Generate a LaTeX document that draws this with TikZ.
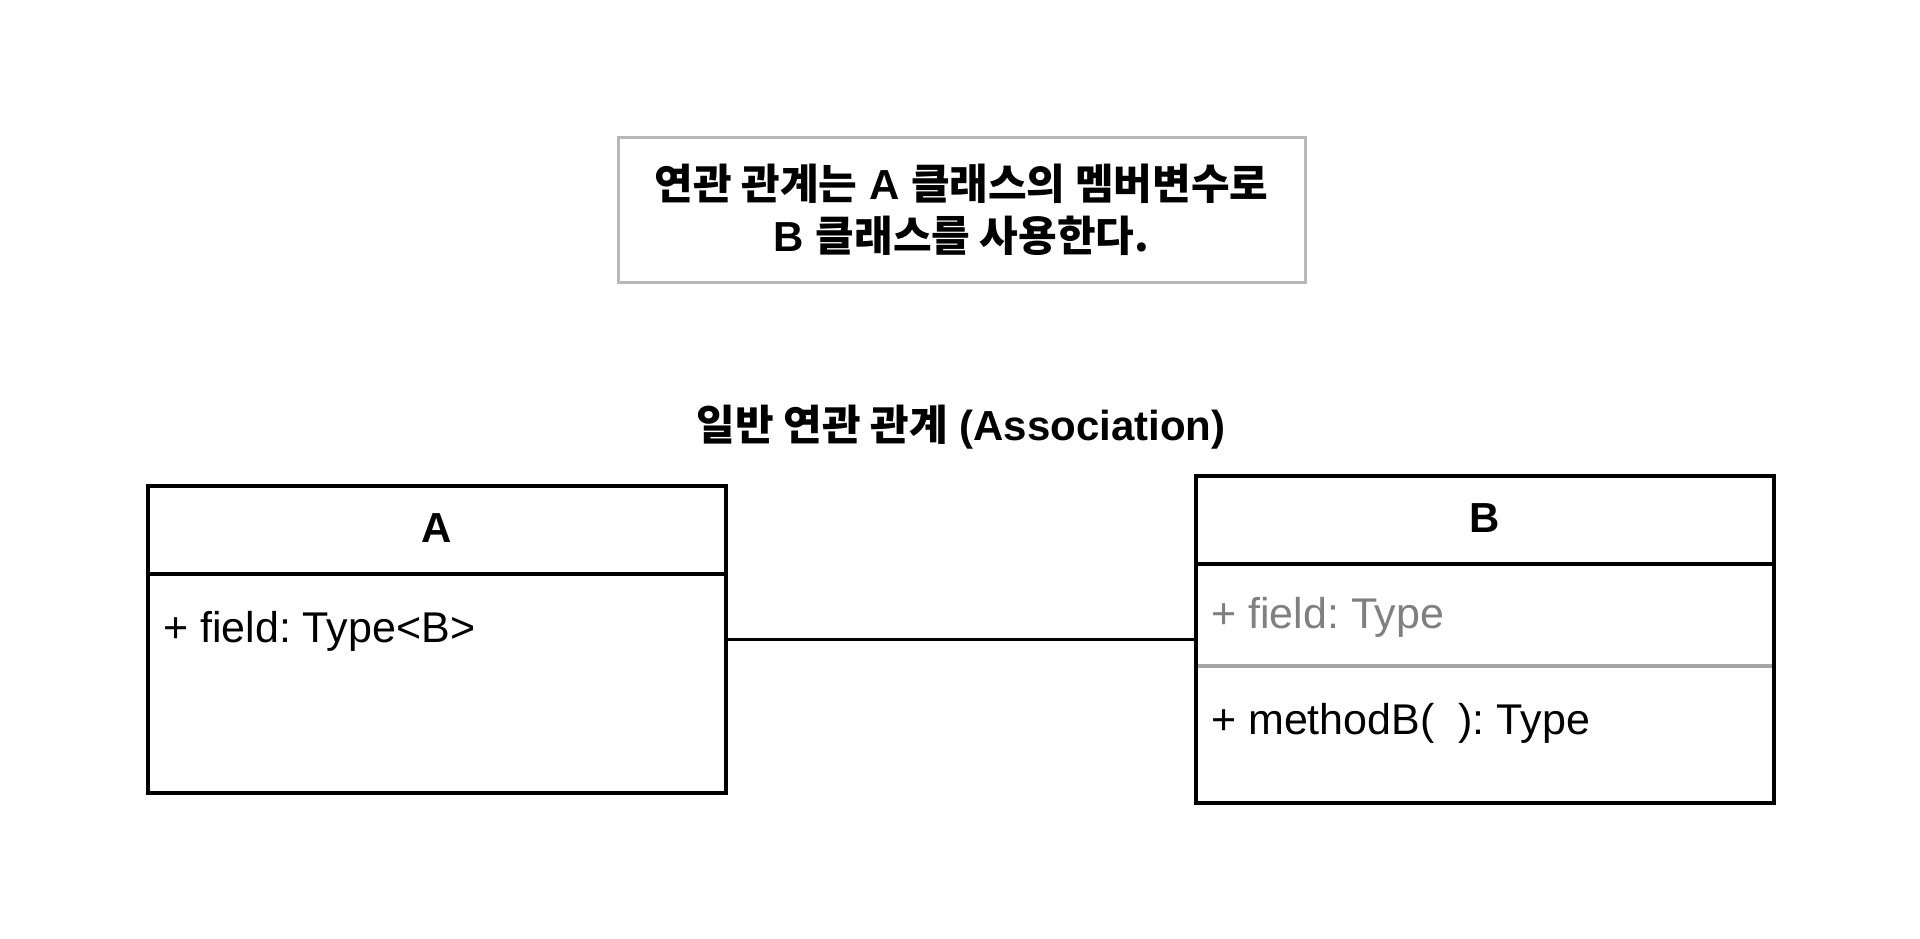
\documentclass[tikz,border=0pt]{standalone}
\usepackage{fontspec}
\setmainfont{Liberation Sans}
\newfontfamily\kr{Noto Sans CJK KR}
\usetikzlibrary{positioning}
\frenchspacing

\definecolor{notegray}{HTML}{B8B8B8}
\definecolor{fieldgray}{HTML}{808080}
\definecolor{dividergray}{HTML}{A6A6A6}

\tikzset{
  classbox/.style={draw=black, line width=3.2pt, minimum width=578pt, inner sep=0pt, outer sep=0pt},
  headtext/.style={font=\bfseries\fontsize{42}{50}\selectfont},
  member/.style={anchor=west, inner sep=0pt, font=\fontsize{43}{50}\selectfont}
}

\begin{document}
\begin{tikzpicture}[x=1pt, y=-1pt]
    \useasboundingbox (0,0) rectangle (1920,938);

    % Note
    \node[draw=notegray, line width=3pt, minimum width=687pt, minimum height=145pt, align=center,
          font=\bfseries\fontsize{42}{52}\selectfont] (note) at (961.5,209.5)
          {{\kr 연관 관계는} A {\kr 클래스의 멤버변수로}\\B {\kr 클래스를 사용한다.}};

    % Title
    \node[headtext] (title) at (961,427) {{\kr 일반 연관 관계} (Association)};

    % Class A
    \node[classbox, minimum height=88pt, headtext] (Ahead) at (437,530) {\raisebox{3pt}{A}};
    \node[classbox, minimum height=219pt, below=0pt of Ahead] (Abody) {};
    \node[member] (Afield) at (163,631) {+ field: Type<B>};

    % Class B
    \node[classbox, minimum height=88pt, headtext] (Bhead) at (1485,520) {\raisebox{3pt}{B}};
    \node[classbox, minimum height=102pt, below=0pt of Bhead] (Bfield) {};
    \node[classbox, minimum height=137pt, below=0pt of Bfield] (Bmethod) {};
    \draw[dividergray, line width=4pt, shorten <=1.6pt, shorten >=1.6pt] (Bfield.south west) -- (Bfield.south east);
    \node[member, text=fieldgray] (Bfieldtext) at (1211,617) {+ field: Type};
    \node[member] (Bmethodtext) at (1211,723) {+ methodB(\ \ ): Type};

    % Association
    \coordinate (link) at (0,639);
    \draw[line width=3pt] (Abody.east |- link) -- (Bfield.west |- link);
\end{tikzpicture}
\end{document}
